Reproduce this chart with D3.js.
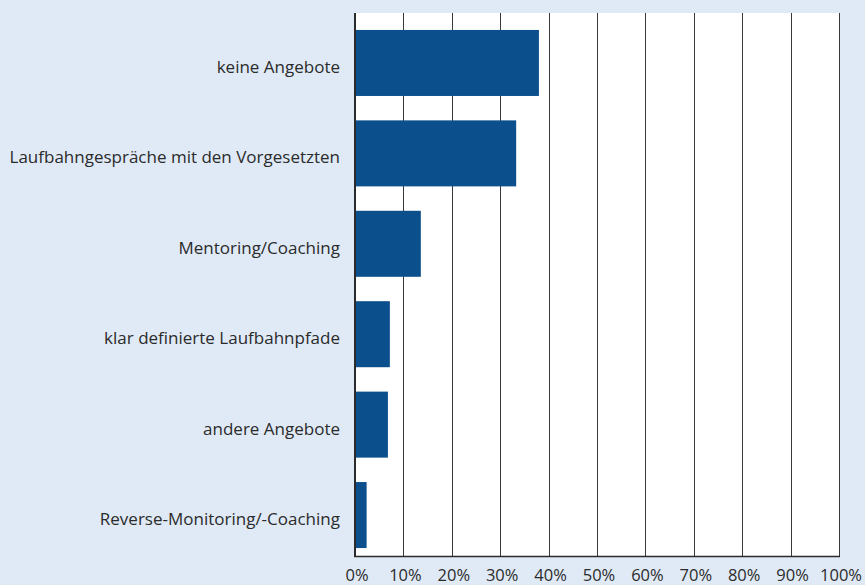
<!DOCTYPE html>
<html>
<head>
<meta charset="utf-8">
<script src="https://cdn.jsdelivr.net/npm/d3@7"></script>
<style>
  body { margin: 0; background: #dfeaf6; }
  svg { display: block; }
  text { font-family: "Open Sans", sans-serif; fill: #2b2b2b; }
</style>
</head>
<body>
<div id="chart"></div>
<script>
(function() {
  var categories = ["keine Angebote", "Laufbahngespräche mit den Vorgesetzten", "Mentoring/Coaching",
    "klar definierte Laufbahnpfade", "andere Angebote", "Reverse-Monitoring/-Coaching"]
  var values = [38.0, 33.3, 13.6, 7.2, 6.8, 2.4]
  var ticks = [0, 10, 20, 30, 40, 50, 60, 70, 80, 90, 100]

  var W = 865, H = 585
  var left = 355, right = 839, top = 13, bottom = 556

  var svg = d3.select("#chart")
    .append("svg")
    .attr("width", W)
    .attr("height", H)

  var x = d3.scaleLinear().domain([0, 100]).range([left, right])
  var y = d3.scaleBand().domain(categories).range([17.75, 560.25]).paddingInner(0.27).paddingOuter(0.135)

  // plot area
  svg.append("rect")
    .attr("x", left).attr("y", top)
    .attr("width", right - left).attr("height", bottom - top)
    .attr("fill", "white")

  // gridlines
  svg.selectAll(".grid")
    .data(ticks.slice(1))
    .enter().append("line")
    .attr("x1", d => Math.round(x(d)) + 0.5)
    .attr("x2", d => Math.round(x(d)) + 0.5)
    .attr("y1", top).attr("y2", bottom)
    .attr("stroke", "#3a3a3a")
    .attr("stroke-width", 1)

  // bars
  svg.selectAll(".bar")
    .data(values)
    .enter().append("rect")
    .attr("x", x(0))
    .attr("y", (d, i) => y(categories[i]))
    .attr("width", d => x(d) - x(0))
    .attr("height", y.bandwidth())
    .attr("fill", "#0b4f8c")

  // bottom axis line
  svg.append("line")
    .attr("x1", left - 1).attr("x2", right + 1)
    .attr("y1", bottom + 0.5).attr("y2", bottom + 0.5)
    .attr("stroke", "#2b2b2b").attr("stroke-width", 1.5)

  // left axis line
  svg.append("line")
    .attr("x1", left).attr("x2", left)
    .attr("y1", top).attr("y2", bottom + 1)
    .attr("stroke", "#2b2b2b").attr("stroke-width", 2)

  // tick labels
  svg.selectAll(".xlab")
    .data(ticks)
    .enter().append("text")
    .attr("x", d => x(d) + 2)
    .attr("y", 581)
    .attr("text-anchor", "middle")
    .attr("font-size", 16.5)
    .text(d => d + "%")

  svg.selectAll(".ylab")
    .data(categories)
    .enter().append("text")
    .attr("x", 340)
    .attr("y", d => y(d) + y.bandwidth() / 2 + 10)
    .attr("text-anchor", "end")
    .attr("font-size", 17)
    .text(d => d)
})()
</script>
</body>
</html>
